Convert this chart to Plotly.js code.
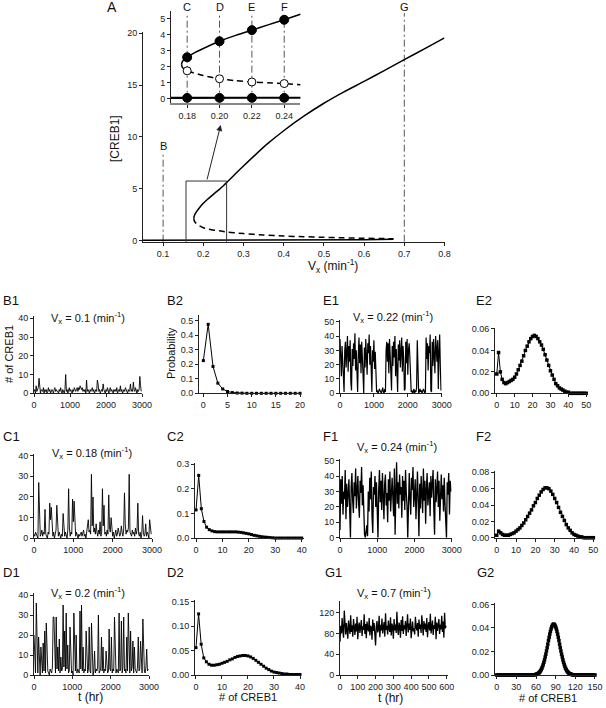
<!DOCTYPE html>
<html><head><meta charset="utf-8">
<script src="https://cdn.plot.ly/plotly-3.0.1.min.js"></script>
<style>html,body{margin:0;padding:0;background:#fff}#chart{width:606px;height:708px}</style>
</head><body><div id="chart"></div>
<script>
// ---------- Panel A: bifurcation diagram ----------
const upX = [0.1765,0.177,0.178,0.18,0.185,0.19,0.2,0.21,0.22,0.23,0.24,0.25,0.26,0.28,0.3,0.33,0.36,0.4,0.45,0.5,0.55,0.6,0.65,0.7,0.75,0.8];
const upY = [2.15,2.33,2.43,2.6,2.9,3.15,3.6,3.97,4.3,4.63,4.95,5.3,5.68,6.45,7.2,8.3,9.35,10.6,12.0,13.25,14.35,15.35,16.4,17.45,18.5,19.55];
const unX = [0.1765,0.177,0.178,0.18,0.19,0.2,0.21,0.22,0.23,0.24,0.25,0.3,0.35,0.4,0.45,0.5,0.55,0.6,0.65,0.673];
const unY = [2.15,1.97,1.88,1.75,1.45,1.25,1.13,1.05,1.0,0.95,0.88,0.68,0.55,0.45,0.38,0.32,0.27,0.23,0.2,0.18];
const lowX = [0.05,0.2,0.4,0.6,0.673];
const lowY = [0.05,0.05,0.07,0.1,0.14];
const markVx = [0.18,0.20,0.22,0.24];
const markUpper = [2.6,3.6,4.3,4.95];
const markUnstable = [1.75,1.25,1.05,0.95];
const markLower = [0.05,0.05,0.05,0.05];
const lineVxMain = [0.1,0.7];          // B, G
const lineLabMain = ['B','G'];
const lineLabInset = ['C','D','E','F'];

// ---------- time series (samples every 20 hr; G1 every 4 hr) ----------
const stepLong = 20, stepShort = 4;
const b1 = [1,2,0,4,1,2,3,8,1,0, 2,1,1,3,0,2,1,2,0,1, 3,1,2,0,1,2,1,0,2,3, 1,2,1,1,0,2,1,3,1,0,
  2,1,0,2,10,1,2,0,1,3, 1,2,1,0,2,1,3,2,1,2, 3,1,3,2,4,3,2,3,1,2, 1,2,0,7,1,2,1,0,2,1,
  2,3,1,2,0,1,2,1,7,5, 1,2,0,1,2,1,5,2,1,0, 2,1,3,1,0,2,3,1,2,1, 0,2,1,2,1,3,0,1,2,1,
  4,1,2,0,1,2,1,3,2,1, 0,2,1,2,5,1,2,1,6,2, 1,3,1,0,2,1,2,9,4,1];
const c1 = [2,1,3,2,1,0,27,3,1,2, 4,1,3,2,14,2,1,0,3,2, 17,9,15,2,1,3,0,2,4,16, 2,1,3,1,0,2,1,12,2,1,
  3,2,0,4,24,5,1,3,2,19, 8,18,2,1,3,1,0,2,1,2, 3,1,2,4,1,2,0,3,5,9, 3,4,2,31,6,20,3,5,2,7,
  3,1,4,2,8,1,3,24,6,16, 2,3,1,4,2,21,5,3,10,2, 1,3,0,2,4,1,2,5,3,1, 2,6,3,1,4,22,7,2,4,3,
  5,31,3,2,1,4,2,3,1,5, 2,4,17,2,1,3,0,2,11,3, 1,2,7,1,3,2,0,9,6,2];
const d1 = [20,2,1,36,3,1,19,2,0,14, 3,1,16,2,22,1,26,3,2,1, 0,3,2,1,4,29,29,2,1,29, 3,14,2,18,1,9,2,3,35,4,
  22,2,31,3,15,1,2,24,3,1, 2,0,31,4,2,20,1,3,2,1, 32,3,35,2,14,1,3,2,22,4, 1,3,24,2,1,26,3,0,2,12,
  1,3,2,4,30,1,2,3,19,2, 14,1,3,2,12,3,1,2,23,3, 2,19,1,3,2,29,4,1,3,2, 1,31,2,3,27,1,4,29,2,3,
  1,19,2,31,3,1,22,2,4,17, 1,14,3,2,1,4,19,2,3,17, 2,1,28,3,2,1,4,13,2,3];
const e1 = [38,25,12,33,20,3,1,30,36,18, 28,40,15,33,22,37,8,2,31,19, 35,24,42,16,30,2,1,27,39,21, 34,14,36,25,3,0,32,18,38,26,
  13,35,28,41,20,33,4,1,30,22, 37,17,29,3,1,2,0,1,3,2, 1,0,2,4,1,0,3,1,30,36, 22,35,14,38,27,3,2,33,19,36,
  25,40,12,31,2,1,34,23,37,18, 29,39,15,33,24,2,3,36,21,38, 13,30,35,26,3,1,2,0,1,3, 0,2,1,4,37,2,0,1,3,1,
  2,0,1,3,2,0,1,39,24,35, 16,33,28,41,2,1,36,19,38,25, 14,40,30,22,37,3,29,41,18,2];
const f1 = [5,38,22,40,15,30,25,44,12,35, 20,28,38,18,0,33,42,24,16,36, 27,45,19,31,40,22,13,37,29,46, 21,34,9,2,0,4,8,1,30,17,
  39,25,43,14,3,33,28,40,20,36, 15,0,31,44,23,37,18,42,27,12, 35,41,21,29,10,38,24,43,17,32, 39,26,14,45,2,30,49,22,36,19,
  41,28,33,13,40,24,37,18,44,29, 21,0,36,42,25,15,39,31,46,20, 27,38,12,34,43,23,1,35,19,40, 30,16,45,24,37,9,32,42,21,28,
  36,14,40,26,33,44,18,2,38,23, 31,43,20,37,11,29,41,25,34,17, 39,22,5,0,36,28,42,15,37,30];
const g1 = [64,95,80,110,85,72,124,90,78,100, 86,70,105,92,79,115,83,96,74,108, 88,77,99,84,112,69,93,101,81,90, 106,75,94,87,117,79,98,71,103,89,
  84,110,76,95,91,68,107,85,100,78, 57,93,104,82,88,114,73,97,86,109, 80,92,102,74,119,87,95,78,105,90, 83,111,76,99,93,70,108,86,97,81,
  122,89,77,101,94,72,106,85,113,79, 96,88,104,75,91,117,82,99,87,109, 71,95,103,84,90,78,112,93,86,100, 74,107,89,97,81,115,92,76,104,88,
  99,83,110,73,94,102,86,118,80,91, 105,77,96,89,112,69,101,85,93,108, 79,97,88,114,83,103,72,120,90,95];

// ---------- distributions ----------
const bins20 = [0,1,2,3,4,5,6,7,8,9,10,11,12,13,14,15,16,17,18,19,20];
const bins40 = [0,1,2,3,4,5,6,7,8,9,10,11,12,13,14,15,16,17,18,19,20,21,22,23,24,25,26,27,28,29,30,31,32,33,34,35,36,37,38,39,40];
const bins50 = [0,1,2,3,4,5,6,7,8,9,10,11,12,13,14,15,16,17,18,19,20,21,22,23,24,25,26,27,28,29,30,31,32,33,34,35,36,37,38,39,40,41,42,43,44,45,46,47,48,49,50];
const b2 = [0.225,0.475,0.185,0.07,0.03,0.012,0.005,0.002,0.001,0,0,0,0,0,0,0,0,0,0,0,0];
const c2 = [0.115,0.255,0.12,0.068,0.045,0.035,0.03,0.027,0.026,0.026,0.026,0.026,0.026,0.026,0.026,0.026,0.025,0.024,0.022,0.02,
  0.018,0.015,0.012,0.01,0.008,0.006,0.005,0.004,0.003,0.002,0.001,0.001,0.001,0.001,0.001,0.001,0.001,0.001,0.001,0.001,0.001];
const d2 = [0.056,0.125,0.063,0.035,0.027,0.022,0.02,0.02,0.021,0.022,0.024,0.026,0.028,0.031,0.033,0.036,0.038,0.039,0.04,0.04,
  0.039,0.037,0.034,0.03,0.026,0.022,0.018,0.014,0.011,0.008,0.006,0.005,0.004,0.003,0.002,0.002,0.001,0.001,0.001,0.001,0.001];
const e2 = [0.018,0.038,0.02,0.013,0.01,0.009,0.01,0.011,0.012,0.013,0.015,0.018,0.022,0.026,0.03,0.035,0.04,0.044,0.048,0.051,
  0.053,0.054,0.053,0.051,0.048,0.045,0.041,0.036,0.031,0.026,0.021,0.017,0.013,0.009,0.007,0.005,0.004,0.003,0.002,0.001,
  0.001,0,0,0,0,0,0,0,0,0,0];
const f2 = [0.003,0.008,0.006,0.004,0.003,0.003,0.003,0.004,0.005,0.006, 0.008,0.010,0.012,0.015,0.018,0.022,0.026,0.030,0.034,0.039,
  0.043,0.048,0.052,0.056,0.059,0.061,0.061,0.060,0.057,0.053, 0.048,0.043,0.037,0.031,0.026,0.021,0.016,0.012,0.009,0.006,
  0.004,0.003,0.002,0.001,0.001,0,0,0,0,0,0];
const g2x = [0,2,4,6,8,10,12,14,16,18,20,22,24,26,28,30,32,34,36,38,40,42,44,46,48,50,52,54,56,
  58,59,60,61,62,63,64,65,66,67,68,69,70,71,72,73,74,75,76,77,78,79,80,81,82,83,84,85,86,87,88,89,90,91,92,93,94,95,96,97,98,99,100,101,102,103,104,105,106,107,108,109,110,111,112,113,114,115,116,
  118,120,122,124,126,128,130,132,134,136,138,140,142,144,146,148,150];
const g2 = [0,0,0,0,0,0,0,0,0,0,0,0,0,0,0,0,0,0,0,0,0,0,0,0,0,0,0,0,0,
  0.0002,0.0003,0.0005,0.0007,0.0009,0.0012,0.0016,0.0022,0.0028,0.0037,0.0047,0.0058,0.0073,0.0089,0.0108,0.0129,0.0153,0.0177,0.0204,0.0232,
  0.0262,0.0292,0.0320,0.0347,0.0371,0.0392,0.0409,0.0421,0.0429,0.0432,0.0429,0.0421,0.0409,0.0392,0.0371,0.0347,0.0320,0.0292,0.0262,0.0232,
  0.0204,0.0177,0.0153,0.0129,0.0108,0.0089,0.0073,0.0058,0.0047,0.0037,0.0028,0.0022,0.0016,0.0012,0.0009,0.0007,0.0005,0.0003,0.0002,
  0,0,0,0,0,0,0,0,0,0,0,0,0,0,0,0,0];

const vxTitles = ['0.1','0.18','0.2','0.22','0.24','0.7'];

// ---------- layout helpers ----------
const W = 606, H = 708;
const FONT = 'Liberation Sans, Arial, sans-serif';
const px = x => x / W;
const py = y => 1 - y / H;
const times = (arr, step) => arr.map((_, i) => i * step);

function xa(x0, x1, range, dtick, fmt, anchor, extra) {
  return Object.assign({domain:[px(x0), px(x1)], range:range, anchor:anchor, showgrid:false, zeroline:false,
    showline:true, linecolor:'#222', linewidth:1, ticks:'outside', ticklen:3, tickwidth:1, tickcolor:'#222',
    tickmode:'linear', tick0:0, dtick:dtick, tickformat:fmt||'', tickfont:{size:9, color:'#222', family:FONT}, fixedrange:true}, extra||{});
}
function ya(yTop, yBot, range, dtick, fmt, anchor, extra) {
  return Object.assign({domain:[py(yBot), py(yTop)], range:range, anchor:anchor, showgrid:false, zeroline:false,
    showline:true, linecolor:'#222', linewidth:1, ticks:'outside', ticklen:3, tickwidth:1, tickcolor:'#222',
    tickmode:'linear', tick0:0, dtick:dtick, tickformat:fmt||'', tickfont:{size:9, color:'#222', family:FONT}, fixedrange:true}, extra||{});
}

const layout = {
  width: W, height: H, margin:{l:0, r:0, t:0, b:0},
  paper_bgcolor:'#fff', plot_bgcolor:'rgba(0,0,0,0)', showlegend:false,
  font:{family:FONT, color:'#111'},
  xaxis:  xa(143, 444.5, [0.05, 0.8], 0.1, '.1f', 'y', {tick0:0.1}),
  yaxis:  ya(32.2, 241.7, [-0.1, 20.1], 5, '', 'x'),
  xaxis2: xa(171, 300.4, [0.17, 0.25], 0.02, '.2f', 'y2', {tick0:0.18, linecolor:'#888', linewidth:2}),
  yaxis2: ya(11, 102.7, [-0.25, 5.5], 1, '', 'x2'),
  // row B / E
  xaxis3: xa(34, 142, [0, 3000], 1000, '', 'y3'),
  yaxis3: ya(316.4, 393.3, [0, 41], 10, '', 'x3'),
  xaxis4: xa(199, 301, [-0.9, 20.2], 5, '', 'y4'),
  yaxis4: ya(314.9, 393.3, [0, 0.54], 0.1, '.1f', 'x4'),
  xaxis5: xa(340, 441.7, [0, 3000], 1000, '', 'y5'),
  yaxis5: ya(320.3, 393.3, [0, 51], 10, '', 'x5'),
  xaxis6: xa(495, 588, [-1, 51], 10, '', 'y6'),
  yaxis6: ya(327.9, 393.3, [0, 0.061], 0.02, '.2f', 'x6'),
  // row C / F
  xaxis7: xa(34, 152, [0, 3000], 1000, '', 'y7'),
  yaxis7: ya(453.6, 538.3, [0, 41], 10, '', 'x7'),
  xaxis8: xa(195, 304.3, [-0.4, 41], 10, '', 'y8'),
  yaxis8: ya(462.8, 538.3, [0, 0.306], 0.1, '.1f', 'x8'),
  xaxis9: xa(340, 451.7, [0, 3000], 1000, '', 'y9'),
  yaxis9: ya(459.2, 537.7, [0, 51], 10, '', 'x9'),
  xaxis10: xa(495, 594.3, [-0.9, 50.5], 10, '', 'y10'),
  yaxis10: ya(471, 537.7, [0, 0.0816], 0.02, '.2f', 'x10'),
  // row D / G
  xaxis11: xa(34, 149, [0, 3000], 1000, '', 'y11'),
  yaxis11: ya(593, 675, [0, 41], 10, '', 'x11'),
  xaxis12: xa(195.2, 301.3, [-0.3, 40.5], 10, '', 'y12'),
  yaxis12: ya(600, 675, [0, 0.1535], 0.05, '.2f', 'x12'),
  xaxis13: xa(340, 447.6, [0, 605], 100, '', 'y13'),
  yaxis13: ya(600.8, 675, [0, 143], 40, '', 'x13'),
  xaxis14: xa(495, 596.3, [-2.6, 152], 30, '', 'y14'),
  yaxis14: ya(602.7, 675, [0, 0.0614], 0.02, '.2f', 'x14'),
  shapes: [], annotations: []
};

const dashDot = {color:'#555', width:1, dash:'7px,3px,2px,3px'};
// vertical marker lines
layout.shapes.push({type:'line', xref:'x', yref:'paper', x0:lineVxMain[0], x1:lineVxMain[0], y0:py(241.7), y1:py(151.7), line:dashDot, layer:'below'});
layout.shapes.push({type:'line', xref:'x', yref:'paper', x0:lineVxMain[1], x1:lineVxMain[1], y0:py(241.7), y1:py(13), line:dashDot, layer:'below'});
markVx.forEach(v => layout.shapes.push({type:'line', xref:'x2', yref:'paper', x0:v, x1:v, y0:py(102.7), y1:py(13), line:dashDot, layer:'below'}));
// zoom rectangle
layout.shapes.push({type:'rect', xref:'x', yref:'y', x0:0.157, x1:0.258, y0:-0.58, y1:5.75, line:{color:'#333', width:1}});

function ann(text, x, y, size, extra) {
  return Object.assign({text:text, xref:'paper', yref:'paper', x:px(x), y:py(y), xanchor:'center', yanchor:'middle',
    showarrow:false, font:{size:size, family:FONT, color:'#111'}}, extra||{});
}
const A = layout.annotations;
// arrow
A.push({xref:'x', yref:'y', axref:'x', ayref:'y', x:0.2433, y:11.16, ax:0.2085, ay:5.76, text:'', showarrow:true,
  arrowhead:2, arrowsize:1.2, arrowwidth:1, arrowcolor:'#222'});
// B, G labels
A.push({text:lineLabMain[0], xref:'x', yref:'paper', x:lineVxMain[0], y:py(146.5), showarrow:false, xanchor:'center', yanchor:'middle', font:{size:11, family:FONT, color:'#111'}});
A.push({text:lineLabMain[1], xref:'x', yref:'paper', x:lineVxMain[1], y:py(6.5), showarrow:false, xanchor:'center', yanchor:'middle', font:{size:11, family:FONT, color:'#111'}});
markVx.forEach((v, i) => A.push({text:lineLabInset[i], xref:'x2', yref:'paper', x:v, y:py(6.5), showarrow:false, xanchor:'center', yanchor:'middle', font:{size:11, family:FONT, color:'#111'}}));
// panel A texts
A.push(ann('A', 112, 7, 14));
A.push(ann('[CREB1]', 115, 139, 12, {textangle:-90}));
A.push(ann('V<sub>x</sub> (min<sup>-1</sup>)', 333, 266, 12));
// panel letters
[['B1',7,300],['B2',171,300],['E1',327,300],['E2',480,300],
 ['C1',7,436],['C2',171,436],['F1',327,436],['F2',480,436],
 ['D1',7,572],['D2',171,572],['G1',329,572],['G2',481,572]].forEach(p => A.push(ann(p[0], p[1], p[2], 13, {xanchor:'left', x:px(p[1]-6)})));
// Vx titles
[[88,318],[92,453],[88,593],[393,317],[397,447],[394,593]].forEach((p, i) =>
  A.push(ann('V<sub>x</sub> = ' + vxTitles[i] + ' (min<sup>-1</sup>)', p[0], p[1], 11)));
// axis titles
A.push(ann('# of CREB1', 9, 354, 11, {textangle:-90}));
A.push(ann('Probability', 171, 353, 11, {textangle:-90}));
A.push(ann('t (hr)', 90, 697, 12));
A.push(ann('t (hr)', 390, 698, 12));
A.push(ann('# of CREB1', 248, 697, 11));
A.push(ann('# of CREB1', 548, 698, 11));

// ---------- traces ----------
const traces = [];
const blk = '#000';
// main A
traces.push({x:lowX, y:lowY, xaxis:'x', yaxis:'y', mode:'lines', line:{color:blk, width:1.5}});
traces.push({x:upX, y:upY, xaxis:'x', yaxis:'y', mode:'lines', line:{color:blk, width:1.5, shape:'spline', smoothing:0.6}});
traces.push({x:unX, y:unY, xaxis:'x', yaxis:'y', mode:'lines', line:{color:blk, width:1.5, dash:'6px,4px', shape:'spline', smoothing:0.6}});
// inset
traces.push({x:lowX, y:lowY, xaxis:'x2', yaxis:'y2', mode:'lines', line:{color:blk, width:2.2}});
traces.push({x:upX, y:upY, xaxis:'x2', yaxis:'y2', mode:'lines', line:{color:blk, width:1.5, shape:'spline', smoothing:0.6}});
traces.push({x:unX, y:unY, xaxis:'x2', yaxis:'y2', mode:'lines', line:{color:blk, width:1.5, dash:'6px,4px', shape:'spline', smoothing:0.6}});
traces.push({x:markVx, y:markUpper, xaxis:'x2', yaxis:'y2', mode:'markers', marker:{size:9, color:blk, line:{color:blk, width:1}}});
traces.push({x:markVx, y:markLower, xaxis:'x2', yaxis:'y2', mode:'markers', marker:{size:9, color:blk, line:{color:blk, width:1}}});
traces.push({x:markVx, y:markUnstable, xaxis:'x2', yaxis:'y2', mode:'markers', marker:{size:8, color:'#fff', line:{color:blk, width:1}}});

// time series: [values, step, axis index, line width]
const ts = [[b1,stepLong,3,0.9],[e1,stepLong,5,1.2],[c1,stepLong,7,0.9],[f1,stepLong,9,1.3],[d1,stepLong,11,0.9],[g1,stepShort,13,1.3]];
ts.forEach(s => traces.push({x:times(s[0], s[1]), y:s[0], xaxis:'x'+s[2], yaxis:'y'+s[2], mode:'lines', line:{color:blk, width:s[3]}}));
// distributions
const ds = [[bins20,b2,4,3],[bins50,e2,6,3.5],[bins40,c2,8,3],[bins50,f2,10,3.5],[bins40,d2,12,3],[g2x,g2,14,3.5]];
ds.forEach(s => traces.push({x:s[0], y:s[1], xaxis:'x'+s[2], yaxis:'y'+s[2], mode:'lines+markers', cliponaxis:false,
  line:{color:blk, width:1}, marker:{size:s[3], symbol:'square', color:blk}}));

Plotly.newPlot('chart', traces, layout, {displayModeBar:false, staticPlot:true});
</script>
</body></html>
